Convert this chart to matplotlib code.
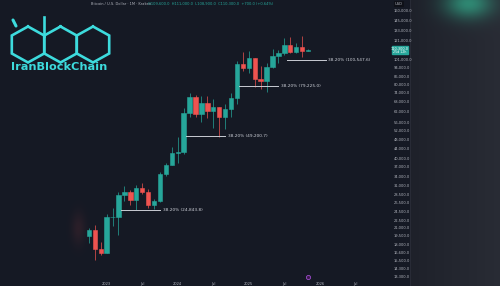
import numpy as np
import matplotlib
matplotlib.use("Agg")
import matplotlib.pyplot as plt

# monthly BTC/USD candles, Oct 2022 .. Nov 2025
months = ['2022-10', '2022-11', '2022-12',
          '2023-01', '2023-02', '2023-03', '2023-04', '2023-05', '2023-06',
          '2023-07', '2023-08', '2023-09', '2023-10', '2023-11', '2023-12',
          '2024-01', '2024-02', '2024-03', '2024-04', '2024-05', '2024-06',
          '2024-07', '2024-08', '2024-09', '2024-10', '2024-11', '2024-12',
          '2025-01', '2025-02', '2025-03', '2025-04', '2025-05', '2025-06',
          '2025-07', '2025-08', '2025-09', '2025-10', '2025-11']
opens = [19423, 20490, 17165,
         16540, 23140, 23150, 28480, 29250, 27220,
         30480, 29230, 25940, 26970, 34640, 37720,
         42280, 42580, 61130, 71330, 60640, 67490,
         62680, 64620, 58970, 63330, 70220, 96450,
         93430, 102400, 84350, 82550, 94200, 104600,
         107150, 115750, 108250, 114050, 109600]
highs = [20990, 21480, 18390,
         23950, 25250, 29190, 31000, 29840, 31400,
         31800, 30200, 27500, 35200, 38420, 44700,
         48970, 64000, 73800, 72700, 71950, 71900,
         70000, 65100, 66500, 73600, 99600, 108300,
         109350, 102500, 95000, 97900, 111900, 110600,
         123200, 124450, 117900, 126200, 111000]
lows = [18150, 15480, 16260,
        16500, 21400, 19570, 26940, 25820, 24800,
        28860, 25300, 24900, 26550, 34100, 37600,
        38500, 41880, 59000, 59200, 56550, 58400,
        53500, 49000, 52550, 58900, 66800, 90500,
        89250, 78200, 76600, 74400, 93400, 98200,
        105100, 107300, 107300, 103500, 108900]
closes = [20490, 17165, 16540,
          23140, 23150, 28480, 29250, 27220, 30480,
          29230, 25940, 26970, 34640, 37720, 42280,
          42580, 61130, 71330, 60640, 67490, 62680,
          64620, 58970, 63330, 70220, 96450, 93430,
          102400, 84350, 82550, 94200, 104600, 107150,
          115750, 108250, 114050, 109600, 110300]

# 38.2% retracement levels and the month each one starts from
fib_levels = [24843.8, 49200.7, 79225.0, 100547.6]
fib_start = ['2023-03', '2024-02', '2024-11', '2025-07']

price_ticks = [160000, 145000, 133000, 121000, 101000, 94000, 86000, 80000,
               74000, 68000, 62000, 56000, 52000, 48000, 44000, 40000, 37000,
               34000, 31000, 28500, 26500, 24500, 22500, 21000, 19500, 18000,
               16600, 15500, 14300, 13300]
time_ticks = ['2023-01', '2023-07', '2024-01', '2024-07', '2025-01',
              '2025-07', '2026-01', '2026-07']
time_labels = ['2023', 'Jul', '2024', 'Jul', '2025', 'Jul', '2026', 'Jul']

UP = '#26a69a'
DOWN = '#ef5350'
W, H = 500, 286

fig = plt.figure(figsize=(5, 2.86), dpi=100)

# background: dark chart, grey right panel with teal glow
yy, xx = np.mgrid[0:H, 0:W]
img = np.zeros((H, W, 3))
img[:] = (21, 25, 36)
panel = xx >= 410
img[panel] = np.stack([30 + (xx[panel] - 410) * 0.12,
                       33 + (xx[panel] - 410) * 0.12,
                       42 + (xx[panel] - 410) * 0.12], axis=-1)
glow = np.exp(-(((xx - 468) / 24.0) ** 2 + ((yy - 3) / 15.0) ** 2))
img[..., 0] += glow * 10
img[..., 1] += glow * 95
img[..., 2] += glow * 65
red = np.exp(-(((xx - 78) / 7.0) ** 2 + ((yy - 228) / 16.0) ** 2))
img[..., 0] += red * 22
img[..., 1] += red * 6
img[..., 2] += red * 5
img = np.clip(img, 0, 255) / 255.0

bg = fig.add_axes([0, 0, 1, 1])
bg.imshow(img, extent=[0, W, H, 0], aspect='auto', interpolation='bilinear')
bg.set_xlim(0, W)
bg.set_ylim(H, 0)
bg.axis('off')
bg.axvline(410, color='#2a2e39', lw=0.6)

# logo (pixel coordinates)
cyan = '#3ddbdd'
r, hw, cy = 18.0, 16.2, 44.5
for cx in [28, 60.5, 93]:
    hx = [cx, cx + hw, cx + hw, cx, cx - hw, cx - hw, cx]
    hy = [cy - r, cy - r / 2, cy + r / 2, cy + r, cy + r / 2, cy - r / 2, cy - r]
    bg.plot(hx, hy, color=cyan, lw=1.9, solid_joinstyle='miter')
bg.plot([44.2, 44.2], [17, cy - r / 2], color=cyan, lw=1.9)
bg.plot([13, 16], [20, 26], color=cyan, lw=2.2, solid_capstyle='round')
bg.text(11, 67, 'IranBlockChain', color=cyan, fontsize=8.1, fontweight='bold',
        family='DejaVu Sans', va='center', ha='left')

# header texts
bg.text(91, 4, 'Bitcoin / U.S. Dollar · 1M · Kraken', color='#b2b5be',
        fontsize=2.6, va='center', ha='left')
bg.text(148, 4, 'O109,600.0  H111,000.0  L108,900.0  C110,300.0  +700.0 (+0.64%)',
        color=UP, fontsize=2.6, va='center', ha='left')
bg.text(395, 4, 'USD', color='#b2b5be', fontsize=2.6, va='center', ha='left',
        bbox=dict(boxstyle='square,pad=0.4', fc='#0f1118', ec='none'))

# event marker on time scale
bg.scatter([308], [277], s=9, facecolor='#3a1a4a', edgecolor='#9c4dcc', lw=0.6, zorder=5)

# main chart
ax = fig.add_axes([0, 7 / H, 391 / W, 279 / H])
ax.set_facecolor('none')
ax.patch.set_alpha(0)
idx = np.arange(len(months))
o = np.array(opens, float)
h = np.array(highs, float)
l = np.array(lows, float)
c = np.array(closes, float)
cols = [UP if cc >= oo else DOWN for oo, cc in zip(o, c)]
ax.vlines(idx, l, h, colors=cols, lw=0.5, zorder=2)
ax.bar(idx, np.abs(c - o), bottom=np.minimum(o, c), width=0.74,
       color=cols, edgecolor=cols, lw=0.4, zorder=3)

for lev, st in zip(fib_levels, fib_start):
    x0 = months.index(st) + 0.4
    x1 = x0 + 6.6
    ax.plot([x0, x1], [lev, lev], color='#c9ccd4', lw=0.7, zorder=4)
    ax.text(x1 + 0.45, lev, '38.20% ({:,.1f})'.format(lev), color='#d1d4dc',
            fontsize=3.1, va='center', ha='left', zorder=4)

ax.set_yscale('log')
px_per_ln = 107.0
ref_p, ref_y = 100547.6, 60.0
ax.set_ylim(np.exp(np.log(ref_p) - (279 - ref_y) / px_per_ln),
            np.exp(np.log(ref_p) + ref_y / px_per_ln))
ax.set_xlim(-15.0, 51.0)

ax.yaxis.tick_right()
ax.set_yticks(price_ticks)
ax.set_yticklabels(['{:,.1f}'.format(p) for p in price_ticks])
ax.yaxis.set_minor_locator(matplotlib.ticker.NullLocator())
ax.tick_params(axis='y', length=0, pad=2.2, labelsize=2.6, labelcolor='#b2b5be')

def month_pos(m):
    y, mo = int(m[:4]), int(m[5:])
    return (y - 2022) * 12 + (mo - 10)

ax.set_xticks([month_pos(m) for m in time_ticks])
ax.set_xticklabels(time_labels)
ax.tick_params(axis='x', length=0, pad=2.0, labelsize=2.6, labelcolor='#b2b5be')
for s in ax.spines.values():
    s.set_visible(False)

# current price tag
last = closes[-1]
ty = ref_y - (np.log(last) - np.log(ref_p)) * px_per_ln
bg.add_patch(plt.Rectangle((392, ty - 3.6), 16, 7.4, color=UP, zorder=6))
bg.text(400, ty - 1.5, '{:,.1f}'.format(last), color='white', fontsize=2.5,
        ha='center', va='center', zorder=7)
bg.text(400, ty + 1.8, '25d 12h', color='white', fontsize=2.3,
        ha='center', va='center', zorder=7)

fig.savefig('out.png', dpi=100, facecolor='#151924')
